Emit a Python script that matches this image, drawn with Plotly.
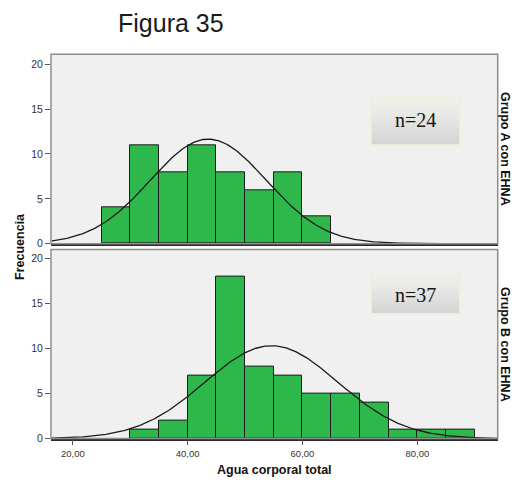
import base64
import numpy as np
import plotly.graph_objects as go

# Histogram data: lower bin edges and frequencies (bin width 5)
bin_width = 5
grupo_a_edges = [25, 30, 35, 40, 45, 50, 55, 60]
grupo_a_counts = [4, 11, 8, 11, 8, 6, 8, 3]
grupo_b_edges = [30, 35, 40, 45, 50, 55, 60, 65, 70, 75, 80, 85]
grupo_b_counts = [1, 2, 7, 18, 8, 7, 5, 5, 4, 1, 1, 1]

# Fitted normal curve parameters
grupo_a_mean, grupo_a_sd = 43.6, 10.1
grupo_b_mean, grupo_b_sd = 54.6, 11.6

panel_labels = ["Grupo A con EHNA", "Grupo B con EHNA"]
n_labels = ["n=24", "n=37"]
x_tick_vals = [20, 40, 60, 80]
x_tick_text = ["20,00", "40,00", "60,00", "80,00"]
y_tick_vals = [0, 5, 10, 15, 20]

W, H = 514, 491
X_RANGE = [16.2, 94.0]
BAR_COLOR = "#2eb84b"
SANS = "Liberation Sans, Arial, sans-serif"


def px_x(p):
    return p / W


def px_y(p):
    return 1 - p / H


def normal_curve(mean, sd, total):
    xs = np.linspace(X_RANGE[0], X_RANGE[1], 400)
    ys = total * bin_width / (sd * np.sqrt(2 * np.pi)) * np.exp(-0.5 * ((xs - mean) / sd) ** 2)
    return xs, ys


fig = go.Figure()

panels = [
    (grupo_a_edges, grupo_a_counts, grupo_a_mean, grupo_a_sd, "x", "y"),
    (grupo_b_edges, grupo_b_counts, grupo_b_mean, grupo_b_sd, "x2", "y2"),
]
for edges, counts, mean, sd, xa, ya in panels:
    centers = np.array(edges, dtype=float) + bin_width / 2
    fig.add_trace(go.Bar(
        x=centers, y=counts, width=bin_width, xaxis=xa, yaxis=ya,
        marker=dict(color=BAR_COLOR, line=dict(color="#1c1c1c", width=1)),
        showlegend=False, hoverinfo="x+y",
    ))
    cx, cy = normal_curve(mean, sd, sum(counts))
    fig.add_trace(go.Scatter(
        x=cx, y=cy, mode="lines", xaxis=xa, yaxis=ya,
        line=dict(color="#1a1a1a", width=1.3), showlegend=False, hoverinfo="skip",
    ))

x_dom = [px_x(51), px_x(497.7)]
top_dom = [px_y(246.7), px_y(55)]
bot_dom = [px_y(444), px_y(252.7)]

y_common = dict(
    tickvals=y_tick_vals, ticks="outside", ticklen=5, tickcolor="#555",
    tickfont=dict(family=SANS, size=10.5, color="#333"),
    showgrid=False, zeroline=False, showline=False, fixedrange=True,
)
x_common = dict(
    range=X_RANGE, showgrid=False, zeroline=False,
    showline=True, linecolor="#2a2a2a", linewidth=1.5,
)

fig.update_layout(
    width=W, height=H,
    margin=dict(l=0, r=0, t=0, b=0),
    paper_bgcolor="white",
    plot_bgcolor="#f0f0f0",
    bargap=0,
    xaxis=dict(domain=x_dom, anchor="y", showticklabels=False, ticks="", **x_common),
    yaxis=dict(domain=top_dom, anchor="x", range=[0, 21.1], **y_common),
    xaxis2=dict(
        domain=x_dom, anchor="y2", matches="x",
        tickvals=x_tick_vals, ticktext=x_tick_text, ticks="outside", ticklen=5,
        tickcolor="#555", tickfont=dict(family=SANS, size=9.5, color="#333"),
        **x_common,
    ),
    yaxis2=dict(domain=bot_dom, anchor="x2", range=[0, 21.0], **y_common),
)

# Panel frames
for xr, yr in [("x domain", "y domain"), ("x2 domain", "y2 domain")]:
    fig.add_shape(type="rect", xref=xr, yref=yr, x0=0, x1=1, y0=0, y1=1,
                  line=dict(color="#8e8e8e", width=1.5), layer="above")

# Gradient boxes holding the sample size
svg = (
    "<svg xmlns='http://www.w3.org/2000/svg' width='90' height='52' viewBox='0 0 90 52' "
    "preserveAspectRatio='none'><defs><linearGradient id='g' x1='0' y1='0' x2='0' y2='1'>"
    "<stop offset='0' stop-color='#f1f1ed'/><stop offset='0.35' stop-color='#e9e9e6'/>"
    "<stop offset='1' stop-color='#d3d3d3'/></linearGradient></defs>"
    "<rect x='1' y='1' width='88' height='50' fill='url(#g)' stroke='#eef1da' stroke-width='2'/></svg>"
)
svg_uri = "data:image/svg+xml;base64," + base64.b64encode(svg.encode()).decode()

boxes = [(370, 96, 91, 52, 121.5), (370, 274, 91, 44.5, 298.5)]
for (bx, by, bw, bh, ty), label in zip(boxes, n_labels):
    fig.add_layout_image(
        source=svg_uri, xref="paper", yref="paper",
        x=px_x(bx), y=px_y(by), sizex=bw / W, sizey=bh / H,
        xanchor="left", yanchor="top", sizing="stretch", layer="above",
    )
    fig.add_annotation(
        text=label, xref="paper", yref="paper", x=px_x(bx + bw / 2), y=px_y(ty),
        showarrow=False, xanchor="center", yanchor="middle",
        font=dict(family="Liberation Serif, Times New Roman, serif", size=20, color="#151515"),
    )

# Strip labels on the right of each panel
for label, (y0, y1) in zip(panel_labels, [top_dom, bot_dom]):
    fig.add_annotation(
        text=f"<b>{label}</b>", xref="paper", yref="paper",
        x=px_x(505), y=(y0 + y1) / 2, textangle=90, showarrow=False,
        xanchor="center", yanchor="middle",
        font=dict(family=SANS, size=12.5, color="#111"),
    )

# Axis titles and heading
fig.add_annotation(
    text="<b>Frecuencia</b>", xref="paper", yref="paper", x=px_x(20), y=px_y(250),
    textangle=-90, showarrow=False, xanchor="center", yanchor="middle",
    font=dict(family=SANS, size=12.5, color="#111"),
)
fig.add_annotation(
    text="<b>Agua corporal total</b>", xref="paper", yref="paper", x=px_x(274), y=px_y(476),
    showarrow=False, xanchor="center", yanchor="middle",
    font=dict(family=SANS, size=12.5, color="#111"),
)
fig.add_annotation(
    text="Figura 35", xref="paper", yref="paper", x=px_x(170.5), y=px_y(23),
    showarrow=False, xanchor="center", yanchor="middle",
    font=dict(family=SANS, size=25, color="#1a1a1a"),
)

fig.write_html("out.html")
